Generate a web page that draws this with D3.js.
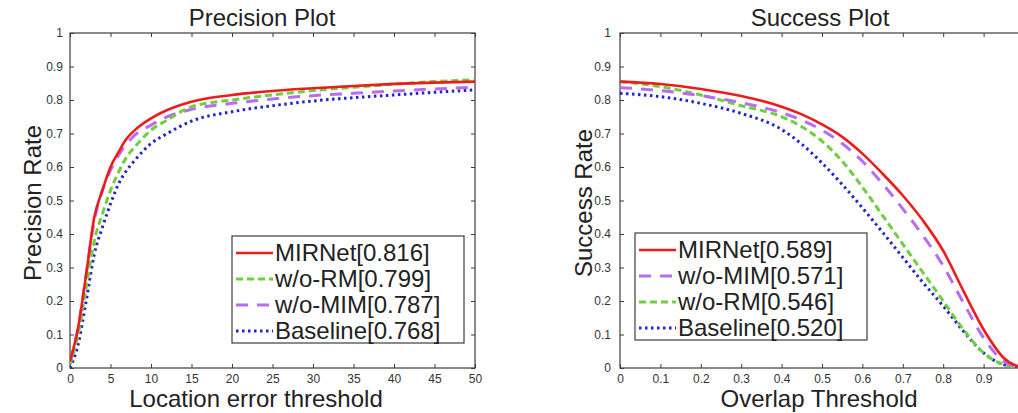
<!DOCTYPE html>
<html>
<head>
<meta charset="utf-8">
<script src="https://cdn.jsdelivr.net/npm/d3@7"></script>
<style>
  body { margin: 0; background: #fff; }
  svg { display: block; font-family: "Liberation Sans", Arial, sans-serif; }
</style>
</head>
<body>
<div id="chart"></div>
<script>
// ---- data ----
const precX = [0, 1, 2, 3, 4, 5, 6, 7, 8, 10, 12, 15, 20, 25, 30, 35, 40, 45, 50]
const precMIRNet   = [0.02, 0.12, 0.28, 0.45, 0.53, 0.60, 0.645, 0.685, 0.71, 0.745, 0.77, 0.795, 0.815, 0.827, 0.835, 0.842, 0.848, 0.852, 0.855]
const precWoRM     = [0.01, 0.10, 0.24, 0.38, 0.46, 0.53, 0.585, 0.63, 0.66, 0.71, 0.74, 0.78, 0.80, 0.815, 0.828, 0.838, 0.847, 0.855, 0.86]
const precWoMIM    = [0.02, 0.12, 0.28, 0.44, 0.53, 0.59, 0.635, 0.67, 0.695, 0.725, 0.75, 0.772, 0.79, 0.803, 0.813, 0.82, 0.827, 0.833, 0.838]
const precBaseline = [0.00, 0.07, 0.20, 0.34, 0.42, 0.49, 0.55, 0.59, 0.62, 0.67, 0.70, 0.737, 0.765, 0.783, 0.797, 0.807, 0.815, 0.823, 0.83]

const succX = [0, 0.1, 0.2, 0.3, 0.4, 0.45, 0.5, 0.55, 0.6, 0.65, 0.7, 0.75, 0.8, 0.85, 0.9, 0.95, 1.0]
const succMIRNet   = [0.855, 0.848, 0.833, 0.812, 0.78, 0.757, 0.727, 0.69, 0.64, 0.58, 0.515, 0.44, 0.35, 0.23, 0.115, 0.03, 0.0]
const succWoMIM    = [0.837, 0.828, 0.813, 0.792, 0.762, 0.74, 0.71, 0.67, 0.617, 0.55, 0.475, 0.395, 0.305, 0.195, 0.09, 0.02, 0.0]
const succWoRM     = [0.855, 0.84, 0.815, 0.783, 0.75, 0.72, 0.677, 0.617, 0.54, 0.455, 0.37, 0.285, 0.20, 0.115, 0.045, 0.01, 0.0]
const succBaseline = [0.82, 0.81, 0.79, 0.76, 0.712, 0.668, 0.612, 0.548, 0.478, 0.405, 0.33, 0.255, 0.185, 0.11, 0.045, 0.01, 0.0]

const precLegend = ['MIRNet[0.816]', 'w/o-RM[0.799]', 'w/o-MIM[0.787]', 'Baseline[0.768]']
const succLegend = ['MIRNet[0.589]', 'w/o-MIM[0.571]', 'w/o-RM[0.546]', 'Baseline[0.520]']

const precXTicks = d3.range(0, 51, 5)
const succXTicks = d3.range(0, 11).map(d => d / 10)
const succXLabels = d3.range(0, 10).map(d => d / 10)   // "1" sits past the picture's edge
const yTicks = d3.range(0, 11).map(d => d / 10)

// ---- line styles ----
const styles = {
   mirnet:   { color: '#ec1c1c', width: 2.6, dash: null },
   woRM:     { color: '#6fcf3f', width: 3,   dash: '7,4' },
   woMIM:    { color: '#b86cf2', width: 3,   dash: '12,9' },
   baseline: { color: '#2323c8', width: 3,   dash: '2.5,3.5' }
}

const width = 1018
const height = 413

const svg = d3.select('#chart')
   .append('svg')
      .attr('width', width)
      .attr('height', height)

svg.append('rect').attr('width', width).attr('height', height).attr('fill', 'white')

function drawPanel(p) {
   let xScale = d3.scaleLinear().domain(p.xDomain).range([p.left, p.right])
   let yScale = d3.scaleLinear().domain([0, 1]).range([368, 33])

   let g = svg.append('g')

   // clip for curves
   g.append('clipPath').attr('id', p.id + '-clip')
      .append('rect')
         .attr('x', p.left).attr('y', 33)
         .attr('width', p.right - p.left).attr('height', 335)

   let axisColor = '#3c3c3c'
   let fmt = d3.format('~g')

   // bottom axis with labels
   let bottom = g.append('g')
      .attr('transform', 'translate(0,368)')
      .call(d3.axisBottom(xScale).tickValues(p.xTicks).tickSizeInner(-4).tickSizeOuter(0).tickPadding(6)
         .tickFormat(d => p.xLabels.includes(d) ? fmt(d) : ''))
   // top mirror ticks
   let top = g.append('g')
      .attr('transform', 'translate(0,33)')
      .call(d3.axisTop(xScale).tickValues(p.xTicks).tickSizeInner(-4).tickSizeOuter(0).tickFormat(''))
   // left axis with labels
   let left = g.append('g')
      .attr('transform', 'translate(' + p.left + ',0)')
      .call(d3.axisLeft(yScale).tickValues(yTicks).tickSizeInner(-4).tickSizeOuter(0).tickPadding(p.yPad)
         .tickFormat(fmt))
   // right mirror ticks
   let right = g.append('g')
      .attr('transform', 'translate(' + p.right + ',0)')
      .call(d3.axisRight(yScale).tickValues(yTicks).tickSizeInner(-4).tickSizeOuter(0).tickFormat(''))

   for (let a of [bottom, top, left, right]) {
      a.select('.domain').remove()
      a.selectAll('line').attr('stroke', axisColor)
      a.selectAll('text').attr('fill', '#333').style('font-size', '12px')
         .style('font-family', '"Liberation Sans", Arial, sans-serif')
   }

   // box
   g.append('rect')
      .attr('x', p.left).attr('y', 33)
      .attr('width', p.right - p.left).attr('height', 335)
      .attr('fill', 'none').attr('stroke', axisColor).attr('stroke-width', 1.2)

   // curves
   let line = d3.line()
      .x(d => xScale(d[0]))
      .y(d => yScale(d[1]))
      .curve(d3.curveMonotoneX)

   let curves = g.append('g').attr('clip-path', 'url(#' + p.id + '-clip)')
   p.series.slice().reverse().forEach(s => {
      curves.append('path')
         .datum(p.x.map((x, i) => [x, s.values[i]]))
         .attr('d', line)
         .attr('fill', 'none')
         .attr('stroke', s.style.color)
         .attr('stroke-width', s.style.width)
         .attr('stroke-dasharray', s.style.dash)
   })

   // title and axis labels
   g.append('text')
      .attr('x', p.titleX).attr('y', 26)
      .attr('text-anchor', 'middle')
      .style('font-size', '24px').attr('fill', '#222')
      .text(p.title)

   g.append('text')
      .attr('x', p.xlabelX).attr('y', 407)
      .attr('text-anchor', 'middle')
      .style('font-size', '24px').attr('fill', '#222')
      .text(p.xlabel)

   g.append('text')
      .attr('transform', 'translate(' + p.ylabelX + ',203) rotate(-90)')
      .attr('text-anchor', 'middle')
      .style('font-size', '24px').attr('fill', '#222')
      .text(p.ylabel)

   // legend
   let lg = g.append('g').attr('transform', 'translate(' + p.legendX + ',' + p.legendY + ')')
   lg.append('rect')
      .attr('width', 232).attr('height', 107)
      .attr('fill', 'white').attr('stroke', axisColor).attr('stroke-width', 1.2)

   p.series.forEach((s, i) => {
      let y = 17 + i * 26
      lg.append('line')
         .attr('x1', 4).attr('x2', 41).attr('y1', y).attr('y2', y)
         .attr('stroke', s.style.color)
         .attr('stroke-width', s.style.width)
         .attr('stroke-dasharray', s.style.dash)
      lg.append('text')
         .attr('x', 43).attr('y', y).attr('dy', '0.35em')
         .style('font-size', '24px').attr('fill', '#222')
         .text(s.label)
   })
}

drawPanel({
   id: 'prec',
   left: 70, right: 475,
   xDomain: [0, 50], xTicks: precXTicks, xLabels: precXTicks, x: precX, yPad: 7,
   title: 'Precision Plot', titleX: 262,
   xlabel: 'Location error threshold', xlabelX: 256,
   ylabel: 'Precision Rate', ylabelX: 41,
   legendX: 232, legendY: 236,
   series: [
      { label: precLegend[0], values: precMIRNet, style: styles.mirnet },
      { label: precLegend[1], values: precWoRM, style: styles.woRM },
      { label: precLegend[2], values: precWoMIM, style: styles.woMIM },
      { label: precLegend[3], values: precBaseline, style: styles.baseline }
   ]
})

drawPanel({
   id: 'succ',
   left: 620, right: 1024,
   xDomain: [0, 1], xTicks: succXTicks, xLabels: succXLabels, x: succX, yPad: 9,
   title: 'Success Plot', titleX: 820,
   xlabel: 'Overlap Threshold', xlabelX: 819,
   ylabel: 'Success Rate', ylabelX: 592,
   legendX: 635, legendY: 233,
   series: [
      { label: succLegend[0], values: succMIRNet, style: styles.mirnet },
      { label: succLegend[1], values: succWoMIM, style: styles.woMIM },
      { label: succLegend[2], values: succWoRM, style: styles.woRM },
      { label: succLegend[3], values: succBaseline, style: styles.baseline }
   ]
})
</script>
</body>
</html>
